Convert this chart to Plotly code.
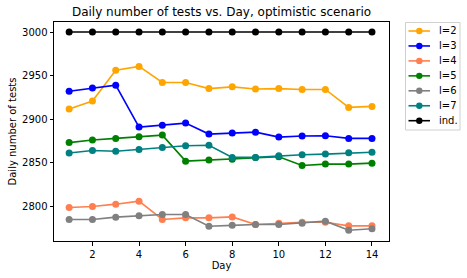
import plotly.graph_objects as go

days = list(range(1, 15))
l2 = [2911.5, 2920.7, 2956, 2960.5, 2942, 2942, 2935, 2937, 2934.5, 2935, 2934, 2934, 2913.4, 2914.6]
l3 = [2932, 2935.6, 2939, 2890.8, 2893, 2895.4, 2882.8, 2884, 2885, 2879.3, 2880.5, 2880.8, 2877.8, 2877.8]
l4 = [2798.5, 2799.6, 2802.3, 2805.7, 2784.7, 2786.6, 2786.6, 2787.7, 2779, 2780.5, 2781.6, 2781.6, 2777.4, 2777.4]
l5 = [2873, 2876, 2877.8, 2879.7, 2881.6, 2851.7, 2852.9, 2854, 2856, 2856.7, 2846.7, 2848.3, 2848.3, 2849.4]
l6 = [2784.7, 2784.7, 2787.4, 2789, 2790.5, 2790.5, 2777, 2778, 2779, 2779, 2780.5, 2782.8, 2772.4, 2774]
l7 = [2861, 2864, 2863, 2865, 2867.4, 2869.4, 2870, 2856, 2856, 2857.9, 2859, 2859.8, 2861.3, 2862]
ind = [3000] * 14

series = [
    ("l=2", l2, "orange"),
    ("l=3", l3, "blue"),
    ("l=4", l4, "coral"),
    ("l=5", l5, "green"),
    ("l=6", l6, "gray"),
    ("l=7", l7, "teal"),
    ("ind.", ind, "black"),
]

W, H = 467, 278
ML, MR, MT, MB = 54, 78, 22, 37
PW, PH = W - ML - MR, H - MT - MB

def px_to_paper_x(px):
    return (px - ML) / PW

def px_to_paper_y(py):
    return 1 - (py - MT) / PH

fig = go.Figure()
for name, vals, col in series:
    fig.add_trace(go.Scatter(
        x=days, y=vals, name=name, mode="lines+markers",
        line=dict(color=col, width=1.6),
        marker=dict(color=col, size=7),
        showlegend=False,
    ))

# custom matplotlib-like legend
shapes = []
annotations = []
box_l, box_r, box_t, box_b = 405.5, 460, 22.5, 130
shapes.append(dict(type="rect", xref="paper", yref="paper",
                   x0=px_to_paper_x(box_l), x1=px_to_paper_x(box_r),
                   y0=px_to_paper_y(box_b), y1=px_to_paper_y(box_t),
                   line=dict(color="#d0d0d0", width=1), fillcolor="white", layer="above"))
for i, (name, vals, col) in enumerate(series):
    yc = 31 + i * 14.95
    shapes.append(dict(type="line", xref="paper", yref="paper",
                       x0=px_to_paper_x(408.5), x1=px_to_paper_x(430),
                       y0=px_to_paper_y(yc), y1=px_to_paper_y(yc),
                       line=dict(color=col, width=1.6), layer="above"))
    shapes.append(dict(type="circle", xref="paper", yref="paper",
                       xsizemode="pixel", ysizemode="pixel",
                       xanchor=px_to_paper_x(419.3), yanchor=px_to_paper_y(yc),
                       x0=-3.2, x1=3.2, y0=-3.2, y1=3.2,
                       line=dict(color=col, width=0), fillcolor=col, layer="above"))
    annotations.append(dict(text=name, xref="paper", yref="paper",
                            x=px_to_paper_x(437), y=px_to_paper_y(yc),
                            xanchor="left", yanchor="middle", showarrow=False,
                            font=dict(size=10, color="black")))

font = "DejaVu Sans, sans-serif"
fig.update_layout(
    width=W, height=H,
    margin=dict(l=ML, r=MR, t=MT, b=MB),
    paper_bgcolor="white", plot_bgcolor="white",
    font=dict(family=font, size=10, color="black"),
    title=dict(text="Daily number of tests vs. Day, optimistic scenario",
               x=(ML + ML + PW) / 2 / W, xanchor="center", y=1 - 12 / H, yanchor="middle",
               font=dict(size=12, color="black")),
    showlegend=False,
    shapes=shapes,
    annotations=annotations,
)
fig.update_xaxes(
    range=[0.35, 14.73], tickvals=[2, 4, 6, 8, 10, 12, 14],
    showgrid=False, zeroline=False, showline=True, linecolor="black", linewidth=1,
    mirror=True, ticks="outside", ticklen=3.5, tickcolor="black", automargin=False,
    title=dict(text="Day", font=dict(size=10), standoff=2),
)
fig.update_yaxes(
    range=[2760, 3011.5], tickvals=[2800, 2850, 2900, 2950, 3000],
    showgrid=False, zeroline=False, showline=True, linecolor="black", linewidth=1,
    mirror=True, ticks="outside", ticklen=3.5, tickcolor="black", automargin=False,
    title=dict(text="Daily number of tests", font=dict(size=10), standoff=3),
)
fig.write_html("out.html", config={"displayModeBar": False},
               post_script="document.body.style.margin='0';document.body.style.overflow='hidden';")
